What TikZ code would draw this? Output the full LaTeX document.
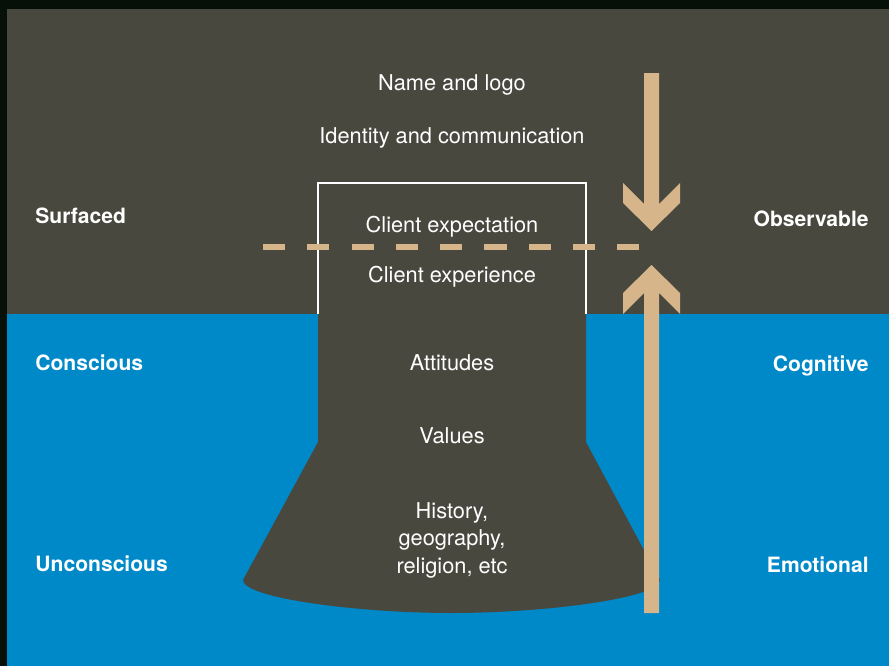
\documentclass[tikz,border=0pt]{standalone}
\usepackage{fontspec}
\setmainfont{TeX Gyre Heros}
\definecolor{slate}{RGB}{72,72,63}
\definecolor{sea}{RGB}{0,137,200}
\definecolor{sand}{RGB}{214,181,138}
\definecolor{frame}{RGB}{6,16,9}

\begin{document}
\begin{tikzpicture}[x=0.02cm, y=-0.02cm]

    % --- Styles ---
    \tikzset{
        % Texte im Bild
        labeltext/.style={
            text=white,
            inner sep=0pt,
            align=center,
            font=\fontsize{12.4}{15.6}\selectfont
        },
        sidelabel/.style={
            labeltext,
            font=\fontsize{12.0}{15.6}\selectfont\bfseries
        },
        % Wasserlinie
        waterline/.style={
            draw=sand,
            line width=2.85pt,
            dash pattern=on 12.6pt off 12.6pt
        },
        % Pfeile
        bigarrow/.style={
            fill=sand
        }
    }

    \useasboundingbox (0,0) rectangle (889,666);

    % --- 1. Hintergrund ---
    \fill[frame] (0,0) rectangle (889,666);
    \fill[slate] (7,9) rectangle (889,314);
    \fill[sea] (7,314) rectangle (889,666);

    % --- 2. Eisberg unter Wasser ---
    \fill[slate] (318,314) -- (318,442) -- (243,580)
        .. controls (243,598.2) and (358.3,613) .. (451.5,613)
        .. controls (544.7,613) and (660,598.2) .. (660,580)
        -- (586,442) -- (586,314) -- cycle;

    % Rahmen ueber Wasser
    \draw[white, line width=0.6pt] (318,314) -- (318,183) -- (586,183) -- (586,314);

    % Wasserlinie (gestrichelt)
    \coordinate (lineA) at (263,247);
    \coordinate (lineB) at (641,247);
    \draw[waterline] (lineA) -- (lineB);

    % --- 3. Pfeile ---
    % nach unten
    \fill[bigarrow] (644,73) -- (644,204) -- (623,183) -- (623,203) -- (651.5,231)
        -- (680,203) -- (680,183) -- (659,204) -- (659,73) -- cycle;
    % nach oben
    \fill[bigarrow] (644,613) -- (644,293) -- (623,314) -- (623,293) -- (651.5,265)
        -- (680,293) -- (680,314) -- (659,293) -- (659,613) -- cycle;

    % --- 4. Beschriftungen Mitte ---
    \node[labeltext, anchor=base] (name) at (452,90) {Name and logo};
    \node[labeltext, anchor=base] (identity) at (452,143) {Identity and communication};
    \node[labeltext, anchor=base] (expectation) at (452,232) {Client expectation};
    \node[labeltext, anchor=base] (experience) at (452,282) {Client experience};
    \node[labeltext, anchor=base] (attitudes) at (452,370) {Attitudes};
    \node[labeltext, anchor=base] (values) at (452,443) {Values};
    \node[labeltext, anchor=north] (history) at (452,502) {History,\\geography,\\religion, etc};

    % --- 5. Beschriftungen links ---
    \node[sidelabel, anchor=base west] (surfaced) at (35,223) {Surfaced};
    \node[sidelabel, anchor=base west] (conscious) at (35,370) {Conscious};
    \node[sidelabel, anchor=base west] (unconscious) at (35,571) {Unconscious};

    % --- 6. Beschriftungen rechts ---
    \node[sidelabel, anchor=base east] (observable) at (869,226) {Observable};
    \node[sidelabel, anchor=base east] (cognitive) at (869,371) {Cognitive};
    \node[sidelabel, anchor=base east] (emotional) at (869,572) {Emotional};

\end{tikzpicture}
\end{document}
